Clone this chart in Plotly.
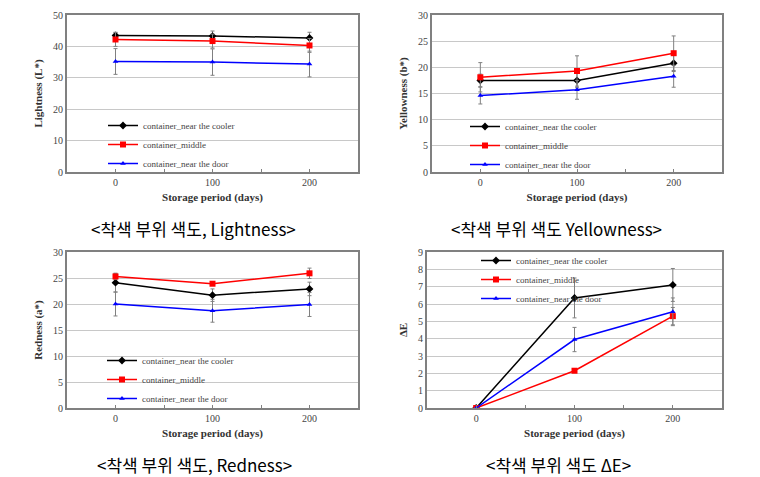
import plotly.graph_objects as go

days = [0, 100, 200]
series_names = ["container_near the cooler", "container_middle", "container_near the door"]

# Lightness (L*)
L_cooler = [43.5, 43.3, 42.7]
L_middle = [42.2, 41.7, 40.3]
L_door = [35.2, 35.0, 34.4]
L_cooler_err = [1.0, 1.6, 1.8]
L_middle_err = [2.2, 2.2, 2.2]
L_door_err = [4.1, 4.2, 4.1]

# Yellowness (b*)
Y_cooler = [17.5, 17.5, 20.8]
Y_middle = [18.1, 19.3, 22.7]
Y_door = [14.6, 15.7, 18.3]
Y_cooler_err = [1.2, 1.4, 1.6]
Y_middle_err = [2.8, 2.9, 3.3]
Y_door_err = [1.6, 1.8, 2.1]

# Redness (a*)
R_cooler = [24.1, 21.7, 22.9]
R_middle = [25.3, 23.9, 25.9]
R_door = [20.0, 18.7, 19.9]
R_cooler_err = [1.8, 1.2, 1.3]
R_middle_err = [0.6, 0.3, 1.0]
R_door_err = [2.3, 2.2, 2.3]

# Delta E
E_cooler = [0.0, 6.35, 7.1]
E_middle = [0.0, 2.15, 5.3]
E_door = [0.0, 3.95, 5.55]
E_cooler_err = [0.0, 1.15, 0.95]
E_middle_err = [0.0, 0.1, 0.5]
E_door_err = [0.0, 0.7, 0.8]

y_titles = ["Lightness (L*)", "Yellowness (b*)", "Redness (a*)", "ΔE"]
captions = ["<착색 부위 색도, Lightness>", "<착색 부위 색도 Yellowness>",
            "<착색 부위 색도, Redness>", "<착색 부위 색도 ΔE>"]
y_ranges = [[0, 50], [0, 30], [0, 30], [0, 9]]
y_dticks = [10, 5, 5, 1]

colors = ["#000000", "#ff0000", "#0000ff"]
symbols = ["diamond", "square", "triangle-up"]
marker_sizes = [6, 6, 5]

panels = [
    ([L_cooler, L_middle, L_door], [L_cooler_err, L_middle_err, L_door_err]),
    ([Y_cooler, Y_middle, Y_door], [Y_cooler_err, Y_middle_err, Y_door_err]),
    ([R_cooler, R_middle, R_door], [R_cooler_err, R_middle_err, R_door_err]),
    ([E_cooler, E_middle, E_door], [E_cooler_err, E_middle_err, E_door_err]),
]

# the page body margin is removed (post_script), so the figure fills the 760x477 window
W, H = 760, 477
# plot boxes in page pixels (x0, x1, ytop, ybottom)
boxes = [(67, 358, 15, 172), (432, 722, 15, 172), (67, 358, 252, 408), (427, 722, 252, 408)]
legend_pos = [(103, 111), (465, 112), (102, 346), (476, 246)]
caption_pos = [(193, 228), (556, 228), (194, 464), (558, 464)]


def px(x):
    return x / W


def py(y):
    return 1 - y / H


serif = "Times New Roman, Liberation Serif, serif"

fig = go.Figure()
layout = dict(width=W, height=H, margin=dict(l=0, r=0, t=0, b=0, autoexpand=False),
              paper_bgcolor="white", plot_bgcolor="white", showlegend=True)
annotations = []

for i, (vals, errs) in enumerate(panels):
    k = "" if i == 0 else str(i + 1)
    leg = "legend" + k
    for j in range(3):
        fig.add_trace(go.Scatter(
            x=days, y=vals[j], name=series_names[j], mode="lines+markers",
            xaxis="x" + k, yaxis="y" + k, legend=leg,
            line=dict(color=colors[j], width=1.5),
            marker=dict(symbol=symbols[j], size=marker_sizes[j], color=colors[j]),
            error_y=dict(type="data", array=errs[j], visible=True,
                         color="#808080", thickness=1, width=2),
        ))
    x0, x1, yt, yb = boxes[i]
    layout["xaxis" + k] = dict(
        domain=[px(x0), px(x1)], anchor="y" + k, range=[-50, 250],
        tickvals=days, ticks="inside", ticklen=3, tickcolor="#808080",
        minor=dict(tickvals=[50, 150], ticks="inside", ticklen=3, tickcolor="#808080"),
        showgrid=False, zeroline=False, showline=True, linecolor="#808080", linewidth=2,
        mirror=True, tickfont=dict(family=serif, size=10, color="#444"),
        automargin=False,
        title=dict(text="<b>Storage period (days)</b>", font=dict(family=serif, size=11, color="#333"),
                   standoff=6),
    )
    layout["yaxis" + k] = dict(
        domain=[py(yb), py(yt)], anchor="x" + k, range=y_ranges[i], dtick=y_dticks[i],
        ticks="", showgrid=True, gridcolor="#c8c8c8", gridwidth=1, zeroline=False,
        showline=True, linecolor="#808080", linewidth=2, mirror=True,
        tickfont=dict(family=serif, size=10, color="#444"), automargin=False,
        title=dict(text="<b>" + y_titles[i] + "</b>", font=dict(family=serif, size=11, color="#333"),
                   standoff=8),
    )
    lx, ly = legend_pos[i]
    layout[leg] = dict(x=px(lx), y=py(ly), xanchor="left", yanchor="top",
                       bgcolor="rgba(0,0,0,0)", font=dict(family=serif, size=9, color="#444"),
                       itemwidth=30, tracegroupgap=0)
    cx, cy = caption_pos[i]
    annotations.append(dict(text=captions[i], x=px(cx), y=py(cy), xref="paper", yref="paper",
                            showarrow=False, xanchor="center", yanchor="middle",
                            font=dict(family="Noto Sans CJK KR", size=17, color="#000")))

layout["annotations"] = annotations
fig.update_layout(**layout)
fig.write_html("out.html", config={"displayModeBar": False},
               post_script="document.body.style.margin='0';document.body.style.overflow='hidden';")
